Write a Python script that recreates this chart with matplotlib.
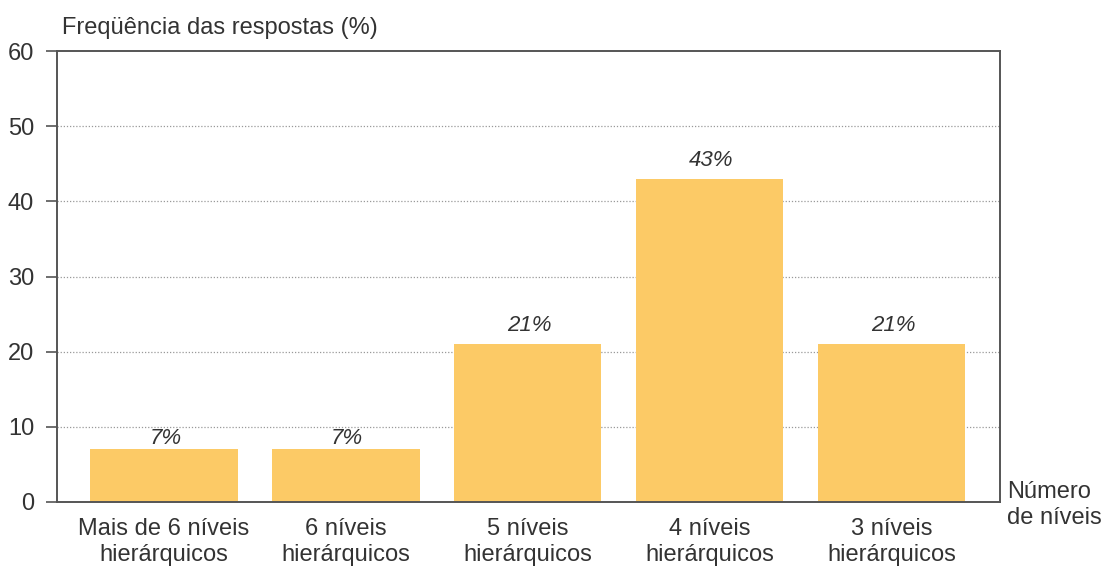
import matplotlib
matplotlib.use("Agg")
import matplotlib.pyplot as plt

categories = ["Mais de 6 níveis\nhierárquicos", "6 níveis\nhierárquicos",
              "5 níveis\nhierárquicos", "4 níveis\nhierárquicos",
              "3 níveis\nhierárquicos"]
values = [7, 7, 21, 43, 21]
y_ticks = [0, 10, 20, 30, 40, 50, 60]

plt.rcParams["font.family"] = ["Liberation Sans", "DejaVu Sans"]

fig = plt.figure(figsize=(11.06, 5.70), dpi=100)
ax = fig.add_axes([0.0515, 0.1193, 0.8527, 0.7912])

bar_color = "#FCCA66"
text_color = "#333333"
spine_color = "#555555"
fs = 17

x = list(range(len(categories)))
ax.bar(x, values, width=0.81, color=bar_color, zorder=2)

# value labels sit above each bar; short bars keep theirs under the 10% gridline
for xi, v in zip(x, values):
    gap = 3.6 if v < 10 else 9.4
    ax.annotate(f"{v}%", xy=(xi, v), xytext=(1, gap), textcoords="offset points",
                ha="center", va="baseline", fontsize=16, style="italic",
                color=text_color)

ax.set_xlim(-0.588, 4.596)
ax.set_ylim(0, 60)
ax.set_yticks(y_ticks)
ax.set_yticklabels([str(t) for t in y_ticks], fontsize=fs, color=text_color)
ax.set_xticks(x)
ax.set_xticklabels(categories, fontsize=fs, color=text_color, linespacing=1.25)
ax.tick_params(axis="x", length=0, pad=11.5)
ax.tick_params(axis="y", length=8, width=1.2, color=spine_color, pad=8.5)

for t in y_ticks[1:-1]:
    ax.axhline(t, color="#999999", linestyle=(0, (1, 1.5)), linewidth=0.9, zorder=1)

for s in ax.spines.values():
    s.set_color(spine_color)
    s.set_linewidth(1.4)

fig.text(62 / 1106, 1 - 28 / 570, "Freqüência das respostas (%)", ha="left",
         va="center", fontsize=fs, color=text_color)
fig.text(1007 / 1106, 1 - 505 / 570, "Número\nde níveis", ha="left",
         va="center", fontsize=fs, color=text_color, linespacing=1.25)

fig.savefig("out.png", dpi=100, facecolor="white")
